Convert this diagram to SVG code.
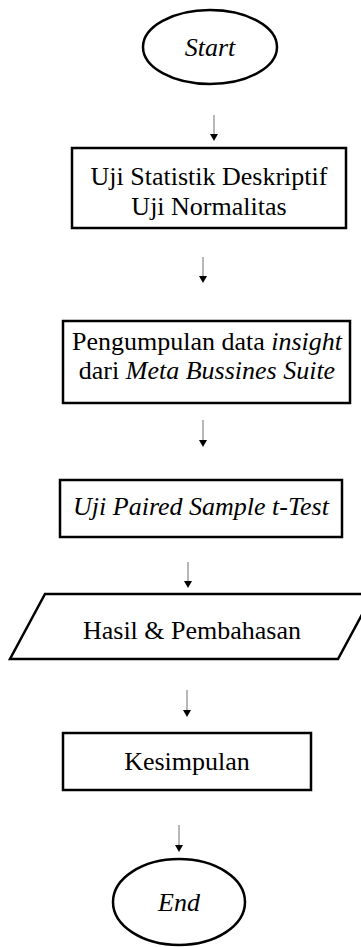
<svg xmlns="http://www.w3.org/2000/svg" width="361" height="947" viewBox="0 0 361 947">
<defs>
<style>
.s{fill:#fff;stroke:#000;stroke-width:2.5}
.t{font-family:"Liberation Serif","Times New Roman",serif;font-size:26px;fill:#000;text-anchor:middle}
.i{font-style:italic}
.c{stroke:#888;stroke-width:1.2;fill:none}
.h{fill:#000}
</style>
</defs>
<rect width="361" height="947" fill="#fff"/>
<g id="start">
<ellipse class="s" cx="210" cy="47" rx="67" ry="37"/>
<text class="t i" x="210" y="56">Start</text>
</g>
<g id="box1">
<rect class="s" x="72" y="148" width="274" height="80"/>
<text class="t" x="209" y="185">Uji Statistik Deskriptif</text>
<text class="t" x="209" y="215">Uji Normalitas</text>
</g>
<g id="box2">
<rect class="s" x="63" y="321" width="287" height="82"/>
<text class="t" x="207" y="350">Pengumpulan data <tspan class="i">insight</tspan></text>
<text class="t" x="207" y="379">dari <tspan class="i">Meta Bussines Suite</tspan></text>
</g>
<g id="box3">
<rect class="s" x="60" y="480" width="282" height="57"/>
<text class="t i" x="201" y="515">Uji Paired Sample t-Test</text>
</g>
<g id="io">
<polygon class="s" points="45,594 373,594 338,659 10,659"/>
<text class="t" x="192" y="639">Hasil &amp; Pembahasan</text>
</g>
<g id="box5">
<rect class="s" x="63" y="733" width="248" height="57"/>
<text class="t" x="187" y="770">Kesimpulan</text>
</g>
<g id="end">
<ellipse class="s" cx="179" cy="902" rx="66" ry="43"/>
<text class="t i" x="179" y="911">End</text>
</g>
<g id="connectors">
<line class="c" x1="214" y1="115" x2="214" y2="134"/>
<path class="h" d="M210,134 L218,134 L214,141 z"/>
<line class="c" x1="203" y1="257" x2="203" y2="276"/>
<path class="h" d="M199,276 L207,276 L203,283 z"/>
<line class="c" x1="203" y1="420" x2="203" y2="440"/>
<path class="h" d="M199,440 L207,440 L203,447 z"/>
<line class="c" x1="188" y1="562" x2="188" y2="581"/>
<path class="h" d="M184,581 L192,581 L188,588 z"/>
<line class="c" x1="187" y1="690" x2="187" y2="710"/>
<path class="h" d="M183,710 L191,710 L187,717 z"/>
<line class="c" x1="179" y1="825" x2="179" y2="845"/>
<path class="h" d="M175,845 L183,845 L179,852 z"/>
</g>
</svg>
